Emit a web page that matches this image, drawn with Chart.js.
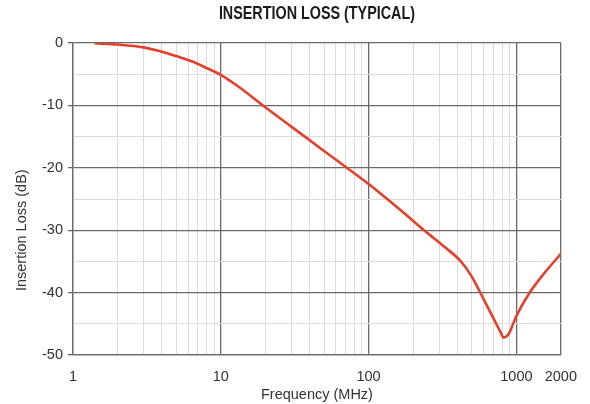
<!DOCTYPE html>
<html>
<head>
<meta charset="utf-8">
<script src="https://cdn.jsdelivr.net/npm/chart.js@4/dist/chart.umd.min.js"></script>
<style>
  html, body { margin: 0; padding: 0; background: #fff; }
  #wrap { width: 590px; height: 404px; }
</style>
</head>
<body>
<div id="wrap"><canvas id="c" width="590" height="404"></canvas></div>
<script>
// Insertion loss curve, typical
const freqMHz = [1.4, 2, 3, 4, 5, 6.5, 8, 10, 13, 20, 30, 50, 100, 165, 243, 324, 421, 492, 605, 727, 780, 819, 860, 894, 993, 1222, 1544, 2000];
const lossDb  = [-0.05, -0.25, -0.7, -1.4, -2.1, -3.0, -4.0, -5.1, -6.9, -10.3, -13.4, -17.3, -22.6, -26.8, -30.2, -32.6, -35.0, -37.2, -41.2, -44.9, -46.3, -47.2, -47.0, -46.5, -43.9, -40.1, -36.9, -33.8];

// Grid positions on the log frequency axis and the ones that carry a label
const xGridValues = [1,2,3,4,5,6,7,8,9,10,20,30,40,50,60,70,80,90,100,200,300,400,500,600,700,800,900,1000,2000];
const xTickLabels = [1, 10, 100, 1000, 2000];
const xMajorLines = [1, 10, 100, 1000, 2000];

const chartTitle = 'INSERTION LOSS (TYPICAL)';
const yAxisTitle = 'Insertion Loss (dB)';

const MAJOR = '#6a6a6a';
const MINOR = '#dcdcdc';
const FONT = "'Liberation Sans', Arial, sans-serif";

// Condensed bold heading over the plot, and the vertical axis title
const titlesPlugin = {
  id: 'titles',
  afterDraw(chart) {
    const ctx = chart.ctx;
    const area = chart.chartArea;
    const y = chart.scales.y;

    ctx.save();
    ctx.translate((area.left + area.right) / 2, 14);
    ctx.scale(0.82, 1);
    ctx.fillStyle = '#1a1a1a';
    ctx.font = 'bold 17.5px ' + FONT;
    ctx.textAlign = 'center';
    ctx.textBaseline = 'middle';
    ctx.fillText(chartTitle, 0, 0);
    ctx.restore();

    ctx.save();
    ctx.translate(22, y.getPixelForValue(-30));
    ctx.rotate(-Math.PI / 2);
    ctx.fillStyle = '#333';
    ctx.font = '14.5px ' + FONT;
    ctx.textAlign = 'center';
    ctx.textBaseline = 'middle';
    ctx.fillText(yAxisTitle, 0, 0);
    ctx.restore();
  }
};

new Chart(document.getElementById('c'), {
  type: 'line',
  data: {
    datasets: [{
      data: freqMHz.map((f, i) => ({ x: f, y: lossDb[i] })),
      borderColor: '#e5402b',
      borderWidth: 2.6,
      pointRadius: 0,
      fill: false,
      cubicInterpolationMode: 'monotone'
    }]
  },
  plugins: [titlesPlugin],
  options: {
    responsive: false,
    animation: false,
    layout: { padding: { left: 0, right: 28, top: 43, bottom: 0 } },
    plugins: {
      legend: { display: false },
      tooltip: { enabled: false },
      title: { display: false }
    },
    scales: {
      x: {
        type: 'logarithmic',
        min: 1,
        max: 2000,
        afterBuildTicks: s => { s.ticks = xGridValues.map(v => ({ value: v })); },
        afterFit: s => { s.height = 49; },
        ticks: {
          autoSkip: false,
          maxRotation: 0,
          padding: 13,
          color: '#333',
          font: { family: FONT, size: 14.5 },
          callback: v => xTickLabels.includes(v) ? String(v) : ''
        },
        grid: {
          drawTicks: false,
          color: c => xMajorLines.includes(c.tick && c.tick.value) ? MAJOR : MINOR,
          lineWidth: c => xMajorLines.includes(c.tick && c.tick.value) ? 1.3 : 1
        },
        border: { color: MAJOR, width: 1.3 },
        title: {
          display: true,
          text: 'Frequency (MHz)',
          color: '#333',
          font: { family: FONT, size: 14.5 },
          padding: { top: 0, bottom: 0 }
        }
      },
      y: {
        min: -50,
        max: 0,
        afterFit: s => { s.width = 73; },
        ticks: {
          stepSize: 5,
          padding: 5,
          color: '#333',
          font: { family: FONT, size: 14.5 },
          callback: v => v % 10 === 0 ? String(v) : ''
        },
        grid: {
          tickLength: 5,
          color: c => (c.tick && c.tick.value % 10 === 0) ? MAJOR : MINOR,
          tickColor: c => (c.tick && c.tick.value % 10 === 0) ? MAJOR : 'rgba(0,0,0,0)',
          lineWidth: c => (c.tick && c.tick.value % 10 === 0) ? 1.3 : 1
        },
        border: { color: MAJOR, width: 1.3 }
      }
    }
  }
});
</script>
</body>
</html>
